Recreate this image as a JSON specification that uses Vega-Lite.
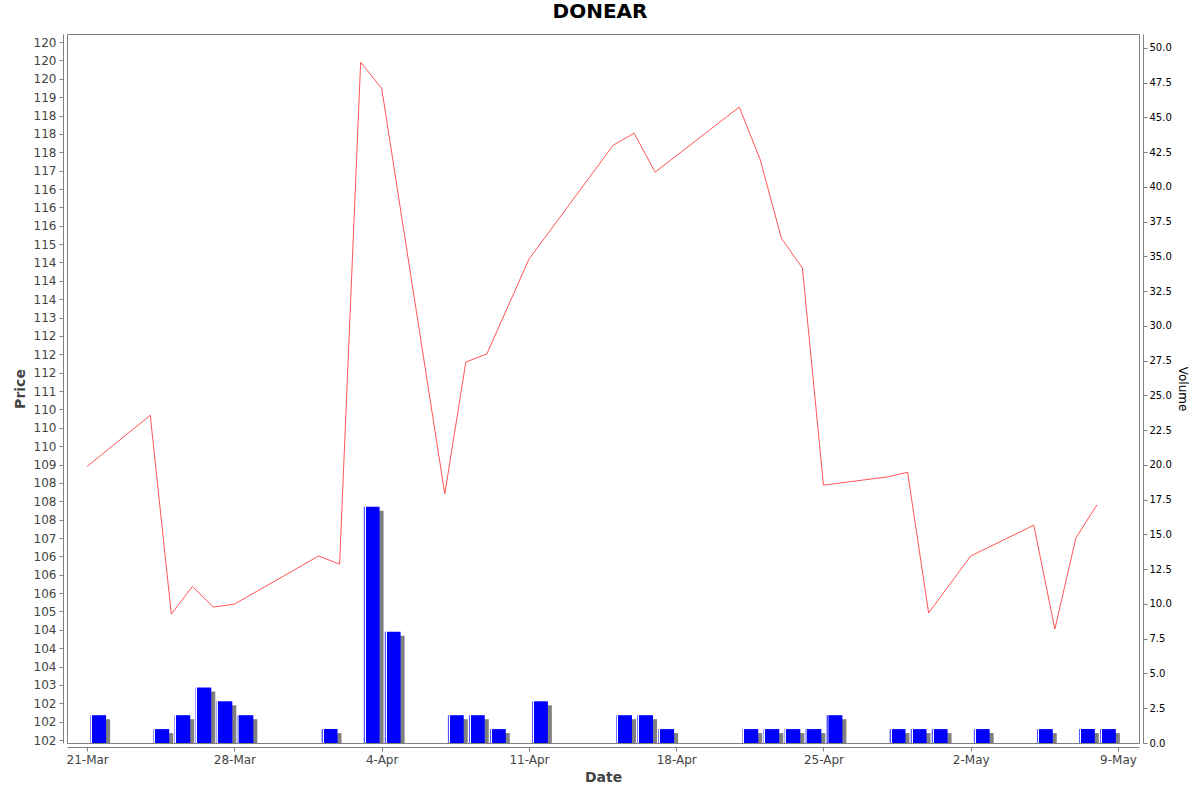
{
  "$schema": "https://vega.github.io/schema/vega-lite/v6.json",
  "width": 1072,
  "height": 709,
  "autosize": "none",
  "padding": {"left": 67, "top": 34, "right": 61, "bottom": 49},
  "background": "white",
  "title": {
    "text": "DONEAR",
    "font": "DejaVu Sans",
    "fontSize": 20,
    "fontWeight": "bold",
    "color": "black",
    "anchor": "middle",
    "offset": 12,
    "dx": -3
  },
  "config": {
    "view": {"stroke": "#808080", "strokeWidth": 1},
    "axis": {
      "grid": false,
      "domainColor": "#808080",
      "tickColor": "#808080",
      "tickSize": 4,
      "labelFont": "DejaVu Sans",
      "titleFont": "DejaVu Sans",
      "labelColor": "#444444",
      "titleColor": "#444444"
    }
  },
  "data": {
    "values": [
      {"date": "2025-03-21", "price": 108.95, "volume": 2},
      {"date": "2025-03-24", "price": 110.34, "volume": 1},
      {"date": "2025-03-25", "price": 104.93, "volume": 2},
      {"date": "2025-03-26", "price": 105.68, "volume": 4},
      {"date": "2025-03-27", "price": 105.12, "volume": 3},
      {"date": "2025-03-28", "price": 105.20, "volume": 2},
      {"date": "2025-04-01", "price": 106.51, "volume": 1},
      {"date": "2025-04-02", "price": 106.29, "volume": 0},
      {"date": "2025-04-03", "price": 119.95, "volume": 17},
      {"date": "2025-04-04", "price": 119.24, "volume": 8},
      {"date": "2025-04-07", "price": 108.20, "volume": 2},
      {"date": "2025-04-08", "price": 111.79, "volume": 2},
      {"date": "2025-04-09", "price": 112.01, "volume": 1},
      {"date": "2025-04-11", "price": 114.59, "volume": 3},
      {"date": "2025-04-15", "price": 117.69, "volume": 2},
      {"date": "2025-04-16", "price": 118.02, "volume": 2},
      {"date": "2025-04-17", "price": 116.96, "volume": 1},
      {"date": "2025-04-21", "price": 118.73, "volume": 1},
      {"date": "2025-04-22", "price": 117.29, "volume": 1},
      {"date": "2025-04-23", "price": 115.16, "volume": 1},
      {"date": "2025-04-24", "price": 114.35, "volume": 1},
      {"date": "2025-04-25", "price": 108.44, "volume": 2},
      {"date": "2025-04-28", "price": 108.66, "volume": 1},
      {"date": "2025-04-29", "price": 108.79, "volume": 1},
      {"date": "2025-04-30", "price": 104.96, "volume": 1},
      {"date": "2025-05-02", "price": 106.51, "volume": 1},
      {"date": "2025-05-05", "price": 107.35, "volume": 1},
      {"date": "2025-05-06", "price": 104.52, "volume": 0},
      {"date": "2025-05-07", "price": 107.00, "volume": 1},
      {"date": "2025-05-08", "price": 107.90, "volume": 1}
    ]
  },
  "layer": [
    {
      "transform": [{"filter": "datum.volume > 0"}],
      "mark": {"type": "bar", "color": "#808080", "xOffset": 4, "yOffset": 4, "clip": true, "width": {"band": 0.8}},
      "encoding": {
        "x": {
          "field": "date", "type": "temporal", "timeUnit": "utcyearmonthdate",
          "scale": {"type": "utc", "domain": [
            {"year": 2025, "month": 3, "date": 20, "hours": 1, "utc": true},
            {"year": 2025, "month": 5, "date": 10, "utc": true}
          ]},
          "axis": {
            "orient": "bottom",
            "offset": 4,
            "title": "Date",
            "titleFontSize": 14,
            "titleFontWeight": "bold",
            "titlePadding": 5,
            "labelFontSize": 12,
            "labelPadding": 3,
            "labelFlush": false,
            "labelOverlap": false,
            "format": "%-d-%b",
            "values": [
              {"year": 2025, "month": 3, "date": 21, "utc": true},
              {"year": 2025, "month": 3, "date": 28, "utc": true},
              {"year": 2025, "month": 4, "date": 4, "utc": true},
              {"year": 2025, "month": 4, "date": 11, "utc": true},
              {"year": 2025, "month": 4, "date": 18, "utc": true},
              {"year": 2025, "month": 4, "date": 25, "utc": true},
              {"year": 2025, "month": 5, "date": 2, "utc": true},
              {"year": 2025, "month": 5, "date": 9, "utc": true}
            ]
          }
        },
        "y": {
          "field": "volume", "type": "quantitative",
          "scale": {"domain": [0, 51], "nice": false, "zero": true},
          "axis": null
        }
      }
    },
    {
      "transform": [{"filter": "datum.volume > 0"}],
      "mark": {
        "type": "bar",
        "width": {"band": 0.8},
        "color": {
          "gradient": "linear", "x1": 0, "y1": 0, "x2": 1, "y2": 0,
          "stops": [
            {"offset": 0, "color": "#5555ff"},
            {"offset": 0.06, "color": "#5555ff"},
            {"offset": 0.065, "color": "#ffffff"},
            {"offset": 0.12, "color": "#ffffff"},
            {"offset": 0.125, "color": "#0000ff"},
            {"offset": 1, "color": "#0000ff"}
          ]
        }
      },
      "encoding": {
        "x": {
          "field": "date", "type": "temporal", "timeUnit": "utcyearmonthdate"
        },
        "y": {
          "field": "volume", "type": "quantitative",
          "scale": {"domain": [0, 51], "nice": false, "zero": true},
          "axis": {
            "orient": "right",
            "offset": 4,
            "title": "Volume",
            "titleFontSize": 12,
            "titleFontWeight": "normal",
            "titleColor": "black",
            "titlePadding": 4,
            "labelColor": "black",
            "labelFontSize": 10,
            "labelPadding": 2,
            "format": ".1f",
            "values": [0, 2.5, 5, 7.5, 10, 12.5, 15, 17.5, 20, 22.5, 25, 27.5, 30, 32.5, 35, 37.5, 40, 42.5, 45, 47.5, 50]
          }
        }
      }
    },
    {
      "mark": {"type": "line", "color": "#ff5555", "strokeWidth": 1},
      "encoding": {
        "x": {"field": "date", "type": "temporal"},
        "y": {
          "field": "price", "type": "quantitative",
          "scale": {"domain": [101.42, 120.72], "nice": false, "zero": false},
          "axis": {
            "orient": "left",
            "offset": 4,
            "title": "Price",
            "titleFontSize": 14,
            "titleFontWeight": "bold",
            "titlePadding": 6,
            "labelFontSize": 12,
            "labelPadding": 3,
            "labelOverlap": false,
            "labelExpr": "'' + (abs(datum.value - floor(datum.value) - 0.5) < 0.000001 ? (floor(datum.value) % 2 == 0 ? floor(datum.value) : floor(datum.value) + 1) : round(datum.value))",
            "values": [101.5, 102, 102.5, 103, 103.5, 104, 104.5, 105, 105.5, 106, 106.5, 107, 107.5, 108, 108.5, 109, 109.5, 110, 110.5, 111, 111.5, 112, 112.5, 113, 113.5, 114, 114.5, 115, 115.5, 116, 116.5, 117, 117.5, 118, 118.5, 119, 119.5, 120, 120.5]
          }
        }
      }
    }
  ],
  "resolve": {"scale": {"y": "independent"}}
}
